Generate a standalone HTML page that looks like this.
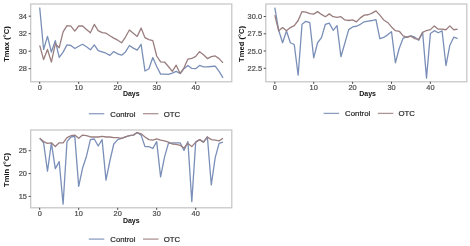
<!DOCTYPE html>
<html><head><meta charset="utf-8"><style>
html,body{margin:0;padding:0;background:#fff;}
body{width:470px;height:246px;overflow:hidden;}
svg{display:block;filter:blur(0.35px);}
.t{font-family:"Liberation Sans",sans-serif;font-size:7.4px;fill:#4a4a4a;stroke:#4a4a4a;stroke-width:0.2px;}
.ti{font-family:"Liberation Sans",sans-serif;font-size:7.6px;font-weight:bold;fill:#111111;}
.td{font-family:"Liberation Sans",sans-serif;font-size:7.0px;font-weight:bold;fill:#111111;}
.lg{font-family:"Liberation Sans",sans-serif;font-size:7.8px;fill:#262626;stroke:#262626;stroke-width:0.2px;}
</style></head><body>
<svg width="470" height="246" viewBox="0 0 470 246">
<polyline points="39.7,7.45 43.6,49.45 47.5,36.33 51.4,52.08 55.3,40.7 59.2,57.32 63.1,52.08 67,44.9 70.9,45.51 74.8,48.49 78.7,46.21 82.6,44.29 86.5,46.83 90.4,49.8 94.3,44.9 98.2,50.68 102.1,51.9 106,53.21 109.9,55.4 113.8,51.55 117.7,53.83 121.6,55.14 125.5,51.9 129.4,45.51 133.3,48.14 137.2,50.06 141.1,44.29 145,70.98 148.9,68.7 152.8,57.59 156.7,66.51 160.6,74.13 164.5,74.13 168.4,74.47 172.3,73.08 176.2,71.33 180.1,73.51 184,68.7 187.9,65.46 191.8,68.44 195.7,68.7 199.6,65.46 203.5,66.78 207.4,66.95 211.3,66.51 215.2,66.16 219.1,71.33 223,77.89" fill="none" stroke="#7a8fb8" stroke-width="1.3" stroke-linejoin="round"/>
<polyline points="39.7,45.34 43.6,59.6 47.5,49.45 51.4,62.14 55.3,43.76 59.2,47.7 63.1,31.95 67,25.56 70.9,26.18 74.8,31.08 78.7,26 82.6,25.91 86.5,29.41 90.4,32.82 94.3,24.42 98.2,30.64 102.1,32.56 106,33.17 109.9,35.8 113.8,38.08 117.7,40.17 121.6,42.8 125.5,37.02 129.4,30.02 133.3,33.17 137.2,36.41 141.1,28.1 145,37.64 148.9,39.56 152.8,40.7 156.7,56.01 160.6,61.96 164.5,62.05 168.4,66.51 172.3,71.33 176.2,65.2 180.1,73.51 184,67.82 187.9,59.07 191.8,58.46 195.7,56.45 199.6,51.64 203.5,54.7 207.4,58.55 211.3,56.63 215.2,55.92 219.1,58.64 223,62.92" fill="none" stroke="#9a7e7f" stroke-width="1.3" stroke-linejoin="round"/>
<rect x="30.7" y="4" width="201.1" height="77.8" fill="none" stroke="#c4c4c4" stroke-width="1.2"/>
<line x1="28.6" y1="16.2" x2="30.7" y2="16.2" stroke="#4a4a4a" stroke-width="1.0"/>
<text x="26.9" y="18.85" text-anchor="end" class="t">34</text>
<line x1="28.6" y1="33.7" x2="30.7" y2="33.7" stroke="#4a4a4a" stroke-width="1.0"/>
<text x="26.9" y="36.35" text-anchor="end" class="t">32</text>
<line x1="28.6" y1="51.2" x2="30.7" y2="51.2" stroke="#4a4a4a" stroke-width="1.0"/>
<text x="26.9" y="53.85" text-anchor="end" class="t">30</text>
<line x1="28.6" y1="68.7" x2="30.7" y2="68.7" stroke="#4a4a4a" stroke-width="1.0"/>
<text x="26.9" y="71.35" text-anchor="end" class="t">28</text>
<line x1="39.7" y1="81.8" x2="39.7" y2="83.9" stroke="#4a4a4a" stroke-width="1.0"/>
<text x="39.7" y="90.35" text-anchor="middle" class="t">0</text>
<line x1="78.7" y1="81.8" x2="78.7" y2="83.9" stroke="#4a4a4a" stroke-width="1.0"/>
<text x="78.7" y="90.35" text-anchor="middle" class="t">10</text>
<line x1="117.7" y1="81.8" x2="117.7" y2="83.9" stroke="#4a4a4a" stroke-width="1.0"/>
<text x="117.7" y="90.35" text-anchor="middle" class="t">20</text>
<line x1="156.7" y1="81.8" x2="156.7" y2="83.9" stroke="#4a4a4a" stroke-width="1.0"/>
<text x="156.7" y="90.35" text-anchor="middle" class="t">30</text>
<line x1="195.7" y1="81.8" x2="195.7" y2="83.9" stroke="#4a4a4a" stroke-width="1.0"/>
<text x="195.7" y="90.35" text-anchor="middle" class="t">40</text>
<text x="131.25" y="95.5" text-anchor="middle" class="td">Days</text>
<text transform="translate(8.65,44) rotate(-90)" x="0" y="0" text-anchor="middle" class="ti">Tmax (°C)</text>
<line x1="88.8" y1="113.7" x2="104.3" y2="113.7" stroke="#8d9fc0" stroke-width="1.3"/>
<text x="110.3" y="116.5" class="lg">Control</text>
<line x1="143" y1="113.7" x2="158.5" y2="113.7" stroke="#ae9494" stroke-width="1.3"/>
<text x="163.7" y="116.5" class="lg">OTC</text>
<polyline points="274.8,7.52 278.69,30.31 282.58,42.75 286.47,31 290.36,42.75 294.25,44.47 298.14,75.21 302.03,24.3 305.92,21.33 309.81,22.72 313.7,57.94 317.59,42.75 321.48,37.57 325.37,24.3 329.26,23.13 333.15,30.31 337.04,25.62 340.93,56.7 344.82,43.23 348.71,29.62 352.6,26.93 356.49,26.24 360.38,24.3 364.27,21.82 368.16,21.13 372.05,20.51 375.94,19.61 379.83,38.74 383.72,37.43 387.61,34.87 391.5,31.7 395.39,62.78 399.28,48.27 403.17,38.05 407.06,36.88 410.95,35.84 414.84,37.22 418.73,40.33 422.62,32.39 426.51,78.18 430.4,33.42 434.29,30.66 438.18,32.73 442.07,30.87 445.96,65.54 449.85,45.23 453.74,37.22 457.63,38.6" fill="none" stroke="#7a8fb8" stroke-width="1.3" stroke-linejoin="round"/>
<polyline points="274.8,15.12 278.69,30.73 282.58,27.55 286.47,30.73 290.36,27.55 294.25,25.62 298.14,20.51 302.03,11.6 305.92,12.22 309.81,13.53 313.7,14.08 317.59,11.6 321.48,14.43 325.37,16.71 329.26,13.88 333.15,16.71 337.04,17.33 340.93,16.71 344.82,19.95 348.71,20.51 352.6,19.95 356.49,21.82 360.38,17.88 364.27,15.12 368.16,14.77 372.05,13.18 375.94,10.91 379.83,15.12 383.72,19.95 387.61,22.44 391.5,26.93 395.39,30.73 399.28,31.28 403.17,35.84 407.06,37.43 410.95,36.12 414.84,38.6 418.73,39.29 422.62,32.39 426.51,30.52 430.4,29.62 434.29,25.89 438.18,29.14 442.07,29.14 445.96,29.76 449.85,25.89 453.74,29.76 457.63,29.14" fill="none" stroke="#9a7e7f" stroke-width="1.3" stroke-linejoin="round"/>
<rect x="265.8" y="4" width="201" height="77.8" fill="none" stroke="#c4c4c4" stroke-width="1.2"/>
<line x1="263.7" y1="16.5" x2="265.8" y2="16.5" stroke="#4a4a4a" stroke-width="1.0"/>
<text x="262" y="19.15" text-anchor="end" class="t">30.0</text>
<line x1="263.7" y1="33.77" x2="265.8" y2="33.77" stroke="#4a4a4a" stroke-width="1.0"/>
<text x="262" y="36.42" text-anchor="end" class="t">27.5</text>
<line x1="263.7" y1="51.03" x2="265.8" y2="51.03" stroke="#4a4a4a" stroke-width="1.0"/>
<text x="262" y="53.68" text-anchor="end" class="t">25.0</text>
<line x1="263.7" y1="68.3" x2="265.8" y2="68.3" stroke="#4a4a4a" stroke-width="1.0"/>
<text x="262" y="70.95" text-anchor="end" class="t">22.5</text>
<line x1="274.8" y1="81.8" x2="274.8" y2="83.9" stroke="#4a4a4a" stroke-width="1.0"/>
<text x="274.8" y="90.35" text-anchor="middle" class="t">0</text>
<line x1="313.7" y1="81.8" x2="313.7" y2="83.9" stroke="#4a4a4a" stroke-width="1.0"/>
<text x="313.7" y="90.35" text-anchor="middle" class="t">10</text>
<line x1="352.6" y1="81.8" x2="352.6" y2="83.9" stroke="#4a4a4a" stroke-width="1.0"/>
<text x="352.6" y="90.35" text-anchor="middle" class="t">20</text>
<line x1="391.5" y1="81.8" x2="391.5" y2="83.9" stroke="#4a4a4a" stroke-width="1.0"/>
<text x="391.5" y="90.35" text-anchor="middle" class="t">30</text>
<line x1="430.4" y1="81.8" x2="430.4" y2="83.9" stroke="#4a4a4a" stroke-width="1.0"/>
<text x="430.4" y="90.35" text-anchor="middle" class="t">40</text>
<text x="367.6" y="95.5" text-anchor="middle" class="td">Days</text>
<text transform="translate(243.6,44) rotate(-90)" x="0" y="0" text-anchor="middle" class="ti">Tmed (°C)</text>
<line x1="323.6" y1="113.4" x2="339.1" y2="113.4" stroke="#8d9fc0" stroke-width="1.3"/>
<text x="345.1" y="116.2" class="lg">Control</text>
<line x1="377.8" y1="113.4" x2="393.3" y2="113.4" stroke="#ae9494" stroke-width="1.3"/>
<text x="398.5" y="116.2" class="lg">OTC</text>
<polyline points="39.7,138.32 43.6,142.79 47.5,171.22 51.4,142.79 55.3,168.61 59.2,161.67 63.1,204.17 67,141.56 70.9,136.99 74.8,136.4 78.7,186.35 82.6,168.07 86.5,156.18 90.4,139.59 94.3,139 98.2,145.99 102.1,139.59 106,180.09 109.9,160.75 113.8,143.98 117.7,139.59 121.6,138.32 125.5,136.99 129.4,135.71 133.3,135.12 137.2,132.56 141.1,135.12 145,146.59 148.9,146.59 152.8,148.51 156.7,141.56 160.6,176.89 164.5,157.1 168.4,143.39 172.3,142.79 176.2,142.79 180.1,142.79 184,150.38 187.9,141.56 191.8,201.61 195.7,142.11 199.6,139.59 203.5,142.11 207.4,136.99 211.3,184.97 215.2,157.55 219.1,143.39 223,142.11" fill="none" stroke="#7a8fb8" stroke-width="1.3" stroke-linejoin="round"/>
<polyline points="39.7,138.32 43.6,141.56 47.5,143.39 51.4,142.79 55.3,146.59 59.2,142.79 63.1,142.79 67,137.68 70.9,135.71 74.8,135.12 78.7,138.32 82.6,135.12 86.5,135.71 90.4,136.99 94.3,136.99 98.2,136.99 102.1,136.4 106,136.99 109.9,136.99 113.8,137.68 117.7,137.68 121.6,138.32 125.5,136.99 129.4,135.71 133.3,135.12 137.2,132.56 141.1,133.79 145,136.99 148.9,139.59 152.8,140.19 156.7,138.91 160.6,140.19 164.5,140.87 168.4,142.11 172.3,143.98 176.2,144.3 180.1,145.31 184,147.96 187.9,143.39 191.8,146.59 195.7,142.11 199.6,139.59 203.5,142.11 207.4,136.99 211.3,139.59 215.2,140.19 219.1,140.87 223,138.32" fill="none" stroke="#9a7e7f" stroke-width="1.3" stroke-linejoin="round"/>
<rect x="30.7" y="130" width="201.1" height="77.8" fill="none" stroke="#c4c4c4" stroke-width="1.2"/>
<line x1="28.6" y1="150.7" x2="30.7" y2="150.7" stroke="#4a4a4a" stroke-width="1.0"/>
<text x="26.9" y="153.35" text-anchor="end" class="t">25</text>
<line x1="28.6" y1="173.55" x2="30.7" y2="173.55" stroke="#4a4a4a" stroke-width="1.0"/>
<text x="26.9" y="176.2" text-anchor="end" class="t">20</text>
<line x1="28.6" y1="196.4" x2="30.7" y2="196.4" stroke="#4a4a4a" stroke-width="1.0"/>
<text x="26.9" y="199.05" text-anchor="end" class="t">15</text>
<line x1="39.7" y1="207.8" x2="39.7" y2="209.9" stroke="#4a4a4a" stroke-width="1.0"/>
<text x="39.7" y="216.35" text-anchor="middle" class="t">0</text>
<line x1="78.7" y1="207.8" x2="78.7" y2="209.9" stroke="#4a4a4a" stroke-width="1.0"/>
<text x="78.7" y="216.35" text-anchor="middle" class="t">10</text>
<line x1="117.7" y1="207.8" x2="117.7" y2="209.9" stroke="#4a4a4a" stroke-width="1.0"/>
<text x="117.7" y="216.35" text-anchor="middle" class="t">20</text>
<line x1="156.7" y1="207.8" x2="156.7" y2="209.9" stroke="#4a4a4a" stroke-width="1.0"/>
<text x="156.7" y="216.35" text-anchor="middle" class="t">30</text>
<line x1="195.7" y1="207.8" x2="195.7" y2="209.9" stroke="#4a4a4a" stroke-width="1.0"/>
<text x="195.7" y="216.35" text-anchor="middle" class="t">40</text>
<text x="131.25" y="222.9" text-anchor="middle" class="td">Days</text>
<text transform="translate(8.65,170) rotate(-90)" x="0" y="0" text-anchor="middle" class="ti">Tmin (°C)</text>
<line x1="88.8" y1="239.1" x2="104.3" y2="239.1" stroke="#8d9fc0" stroke-width="1.3"/>
<text x="110.3" y="241.9" class="lg">Control</text>
<line x1="143" y1="239.1" x2="158.5" y2="239.1" stroke="#ae9494" stroke-width="1.3"/>
<text x="163.7" y="241.9" class="lg">OTC</text>
</svg>
</body></html>
